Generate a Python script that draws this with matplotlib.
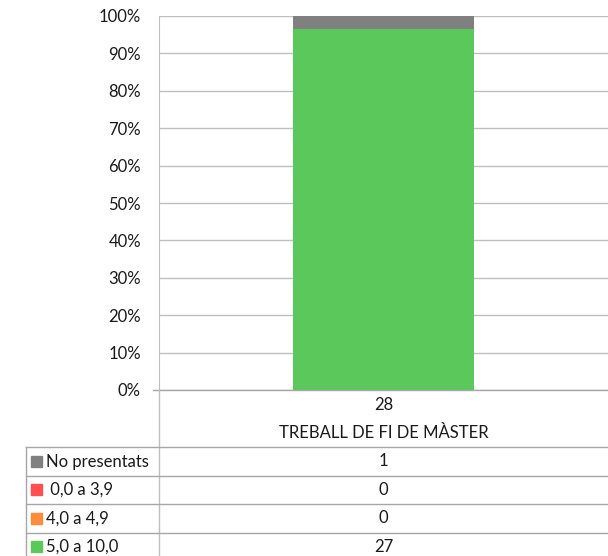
import matplotlib
matplotlib.use("Agg")
from matplotlib import pyplot as plt
from matplotlib.lines import Line2D
from matplotlib.patches import Rectangle

# data (top row of the table first, as in the chart)
categories = ["TREBALL DE FI DE MÀSTER"]
totals = [28]
series_names = ["No presentats", " 0,0 a 3,9", "4,0 a 4,9", "5,0 a 10,0"]
series_values = [[1], [0], [0], [27]]
series_colors = ["#808080", "#FF4F4F", "#FF8C3C", "#5BC85B"]
yticks = [0, 10, 20, 30, 40, 50, 60, 70, 80, 90, 100]

W, H = 608, 556
plt.rcParams['font.family'] = ['Lato', 'DejaVu Sans']
fig = plt.figure(figsize=(W / 100, H / 100), dpi=100)

def fx(x):
    return x / W

def fy(y):
    return 1 - y / H

fs = 12
txt_col = "#1A1A1A"
grid_col = "#BFBFBF"
ax = fig.add_axes([fx(159), fy(390), fx(W) - fx(159), fy(16) - fy(390)])

# percent stacked bars, drawn from bottom series upwards
bottom = [0.0] * len(categories)
for name, vals, col in reversed(list(zip(series_names, series_values, series_colors))):
    pct = [100.0 * v / t for v, t in zip(vals, totals)]
    ax.bar(range(len(categories)), pct, width=0.405, bottom=bottom, color=col, zorder=3)
    bottom = [b + p for b, p in zip(bottom, pct)]

ax.set_xlim(-0.5, len(categories) - 0.5)
ax.set_ylim(0, 100)
ax.set_yticks(yticks)
ax.set_yticklabels([f"{t}%" for t in yticks], fontsize=fs, color=txt_col)
ax.set_xticks([])
ax.yaxis.grid(True, color=grid_col, lw=1)
ax.tick_params(axis='y', length=0, pad=13)
for s in ["top", "right", "bottom"]:
    ax.spines[s].set_visible(False)
ax.spines["left"].set_color(grid_col)

# axis line at 0% extends a little to the left
fig.add_artist(Line2D([fx(153), fx(W)], [fy(389.5), fy(389.5)], color="#A6A6A6", lw=1))
# vertical line under the value axis, down through the table
fig.add_artist(Line2D([fx(159), fx(159)], [fy(390), fy(H)], color=grid_col, lw=1))

# category labels under the bar
cx = fx(159 + (W - 159) * (0 + 0.5) / len(categories))
for i, cat in enumerate(categories):
    fig.text(cx, fy(405), str(totals[i]), ha="center", va="center", fontsize=fs, color=txt_col)
    fig.text(cx, fy(433), cat, ha="center", va="center", fontsize=fs, color=txt_col)

# data table
row_top = 447.3
row_h = 28.4
fig.add_artist(Line2D([fx(25.5), fx(25.5)], [fy(row_top), fy(H)], color="#A6A6A6", lw=1))
for r, (name, vals, col) in enumerate(zip(series_names, series_values, series_colors)):
    y0 = row_top + r * row_h
    fig.add_artist(Line2D([fx(25.5), fx(W)], [fy(y0), fy(y0)], color="#A6A6A6", lw=1))
    yc = y0 + row_h / 2
    fig.add_artist(Rectangle((fx(31), fy(yc + 5.5)), fx(11), fy(0) - fy(11), color=col,
                             transform=fig.transFigure))
    fig.text(fx(46), fy(yc), name, ha="left", va="center", fontsize=fs, color=txt_col)
    for i, v in enumerate(vals):
        fig.text(cx, fy(yc), str(v), ha="center", va="center", fontsize=fs, color=txt_col)

fig.savefig("out.png", dpi=100)
